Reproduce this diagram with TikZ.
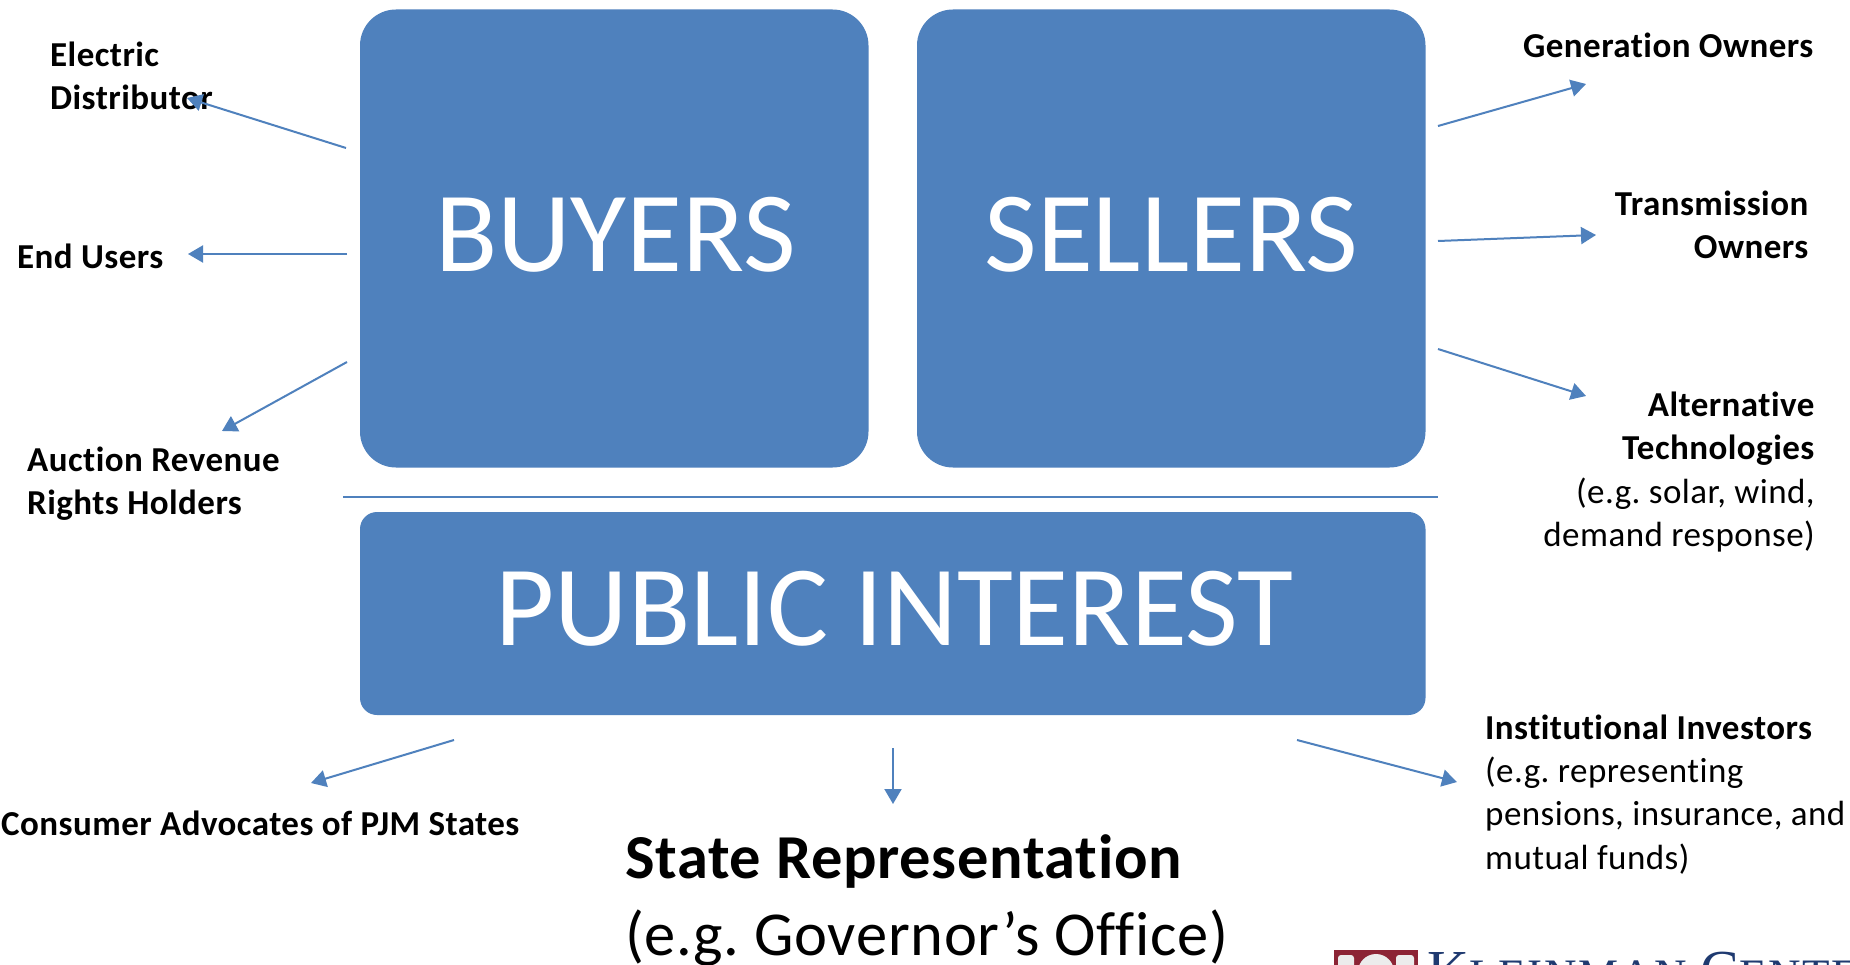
\documentclass[tikz,border=0pt]{standalone}
\usepackage{fontspec}
\setmainfont[Ligatures=NoCommon]{Carlito}
\newfontfamily\labfont[Ligatures=NoCommon,LetterSpace=1.3]{Carlito}
\newfontfamily\bigfont[Ligatures=NoCommon,LetterSpace=1.1]{Carlito}
\newfontfamily\logoserif{Liberation Serif}
\usetikzlibrary{arrows.meta}
\definecolor{boxblue}{HTML}{4F81BD}
\definecolor{logored}{HTML}{8C2435}
\definecolor{logonavy}{HTML}{1F3A70}
\frenchspacing
\tikzset{
  x=1pt,y=-1pt,
  title/.style={inner sep=0pt,text=white,font=\fontsize{114.5}{114}\selectfont,anchor=base},
  lab/.style={inner sep=0pt,font=\labfont\fontsize{35}{43}\selectfont,text=black},
  big/.style={inner sep=0pt,anchor=base west,font=\bigfont\fontsize{62.5}{77}\selectfont},
  conn/.style={draw=boxblue,line width=2pt,-{Triangle[length=15pt,width=17pt]}},
}
\begin{document}
\begin{tikzpicture}
\useasboundingbox (0,0) rectangle (1850,965);
\fill[white] (0,0) rectangle (1850,965);
% panels
\fill[boxblue,rounded corners=36pt] (360,9.5) rectangle (868.5,467.5);
\fill[boxblue,rounded corners=36pt] (917,9.5) rectangle (1425.5,467.5);
\fill[boxblue,rounded corners=17pt] (360,512) rectangle (1425.5,715);
\node[title] (buyers) at (615.5,272) {BUYERS};
\node[title] (sellers) at (1171.5,272) {SELLERS};
\node[title] (public) at (894.5,645) {PUBLIC INTEREST};
\coordinate (la) at (343,497); \coordinate (lb) at (1438,497);
\draw[boxblue,line width=1.8pt] (la) -- (lb);
% labels
\node[lab,anchor=base west,align=left] (elec) at (50,67) {\textbf{Electric}};
\node[lab,anchor=base west,align=left] (dist) at (50,110) {\textbf{Distributor}};
\node[lab,anchor=base west] (end) at (17,269) {\textbf{End Users}};
\node[lab,anchor=base west] (arr1) at (27,471) {\textbf{Auction Revenue}};
\node[lab,anchor=base west] (arr2) at (27,514) {\textbf{Rights Holders}};
\node[lab,anchor=base east] (gen) at (1814,58) {\textbf{Generation Owners}};
\node[lab,anchor=base east] (tr1) at (1809,216) {\textbf{Transmission}};
\node[lab,anchor=base east] (tr2) at (1809,259) {\textbf{Owners}};
\node[lab,anchor=base east] (alt1) at (1815,417) {\textbf{Alternative}};
\node[lab,anchor=base east] (alt2) at (1815,459) {\textbf{Technologies}};
\node[lab,anchor=base east] (alt3) at (1815,503) {(e.g. solar, wind,};
\node[lab,anchor=base east] (alt4) at (1815,546) {demand response)};
\node[lab,anchor=base west] (cons) at (1,835) {\textbf{Consumer Advocates of PJM States}};
\node[lab,anchor=base west] (inst1) at (1485,739) {\textbf{Institutional Investors}};
\node[lab,anchor=base west] (inst2) at (1485,782) {(e.g. representing};
\node[lab,anchor=base west] (inst3) at (1485,825) {pensions, insurance, and};
\node[lab,anchor=base west] (inst4) at (1485,869) {mutual funds)};
\node[big] (st1) at (625,878) {\textbf{State Representation}};
\node[big] (st2) at (625,955) {(e.g. Governor’s Office)};
% connector ends
\coordinate (a1) at (346,148); \coordinate (b1) at (187,98);
\coordinate (a2) at (347,254); \coordinate (b2) at (188,254);
\coordinate (a3) at (347,362); \coordinate (b3) at (222,431);
\coordinate (a4) at (1438,126); \coordinate (b4) at (1586,84);
\coordinate (a5) at (1438,241); \coordinate (b5) at (1596,235);
\coordinate (a6) at (1438,349); \coordinate (b6) at (1586,396);
\coordinate (a7) at (454,740); \coordinate (b7) at (311,783);
\coordinate (a8) at (893,748); \coordinate (b8) at (893,804);
\coordinate (a9) at (1297,740); \coordinate (b9) at (1457,782);
\foreach \i in {1,...,9} \draw[conn] (a\i) -- (b\i);
% logo
\fill[logored] (1334,950) rectangle (1418,965);
\fill[white!85!gray,rounded corners=3pt] (1338,955) rectangle (1354,970) (1396,955) rectangle (1414,970);
\fill[white!85!gray] (1376,972) circle (18);
\node[inner sep=0pt,anchor=base west,text=logonavy] (logo) at (1427,990) {\logoserif\fontsize{58}{58}\selectfont K\fontsize{45}{45}\selectfont\addfontfeature{LetterSpace=4}LEINMAN \fontsize{58}{58}\selectfont C\fontsize{45}{45}\selectfont ENTER};
\end{tikzpicture}
\end{document}
